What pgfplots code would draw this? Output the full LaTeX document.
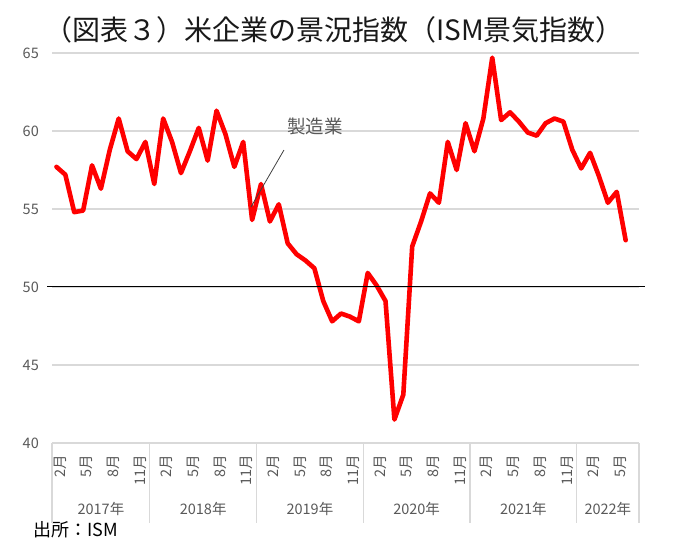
\documentclass[border=0pt]{standalone}
\usepackage{pgfplots}
\pgfplotsset{compat=1.18}
\usepackage{fontspec}
\setmainfont{Noto Sans CJK JP}
\definecolor{gridc}{HTML}{D9D9D9}
\definecolor{lab}{HTML}{595959}
\begin{document}
\begin{tikzpicture}
\useasboundingbox (0,0) rectangle (678bp,555bp);
\node[font=\fontsize{28bp}{32bp}\selectfont, color=black!90] at (334bp,525bp) {（図表３）米企業の景況指数（ISM景気指数）};
\node[font=\fontsize{18bp}{20bp}\selectfont, anchor=west, inner sep=0pt] at (33bp,25bp) {出所：ISM};
\begin{axis}[
  at={(52bp,112bp)}, anchor=south west,
  scale only axis, width=587bp, height=390bp,
  xmin=0, xmax=66, ymin=40, ymax=65,
  clip=false,
  axis line style={draw=none},
  major tick length=0pt,
  ytick={40,45,50,55,60,65},
  ymajorgrids,
  grid style={gridc, line width=1.2bp},
  /pgf/number format/assume math mode=true,
  yticklabel style={font=\fontsize{14.5bp}{16bp}\selectfont, color=lab, inner sep=0pt},
  yticklabel shift=13bp,
  xtick={0.5,3.5,6.5,9.5,12.5,15.5,18.5,21.5,24.5,27.5,30.5,33.5,36.5,39.5,42.5,45.5,48.5,51.5,54.5,57.5,60.5,63.5},
  xticklabels={2月,5月,8月,11月,2月,5月,8月,11月,2月,5月,8月,11月,2月,5月,8月,11月,2月,5月,8月,11月,2月,5月},
  xticklabel style={font=\fontsize{14.5bp}{16bp}\selectfont, color=lab, xshift=3.5bp, rotate=90, anchor=east, inner sep=0pt},
  xticklabel shift=12bp,
]
\addplot[red, line width=4.6bp, line join=round, line cap=round] table[x=x, y=y] {
x y
0.5 57.7
1.5 57.2
2.5 54.8
3.5 54.9
4.5 57.8
5.5 56.3
6.5 58.8
7.5 60.8
8.5 58.7
9.5 58.2
10.5 59.3
11.5 56.6
12.5 60.8
13.5 59.3
14.5 57.3
15.5 58.7
16.5 60.2
17.5 58.1
18.5 61.3
19.5 59.8
20.5 57.7
21.5 59.3
22.5 54.3
23.5 56.6
24.5 54.2
25.5 55.3
26.5 52.8
27.5 52.1
28.5 51.7
29.5 51.2
30.5 49.1
31.5 47.8
32.5 48.3
33.5 48.1
34.5 47.8
35.5 50.9
36.5 50.1
37.5 49.1
38.5 41.5
39.5 43.1
40.5 52.6
41.5 54.2
42.5 56.0
43.5 55.4
44.5 59.3
45.5 57.5
46.5 60.5
47.5 58.7
48.5 60.8
49.5 64.7
50.5 60.7
51.5 61.2
52.5 60.6
53.5 59.9
54.5 59.7
55.5 60.5
56.5 60.8
57.5 60.6
58.5 58.8
59.5 57.6
60.5 58.6
61.5 57.1
62.5 55.4
63.5 56.1
64.5 53.0
};
\draw[black, line width=1bp] (axis cs:-0.56,50) -- (axis cs:66.67,50);
% category separators
\pgfplotsinvokeforeach{0,11,23,35,47,59,66}{
  \draw[gridc, line width=1.2bp] (axis cs:#1,40) -- ++(0pt,-80bp);
}
\node[font=\fontsize{14.5bp}{16bp}\selectfont, color=lab] at ([yshift=-66bp]axis cs:5.5,40) {2017年};
\node[font=\fontsize{14.5bp}{16bp}\selectfont, color=lab] at ([yshift=-66bp]axis cs:17,40) {2018年};
\node[font=\fontsize{14.5bp}{16bp}\selectfont, color=lab] at ([yshift=-66bp]axis cs:29,40) {2019年};
\node[font=\fontsize{14.5bp}{16bp}\selectfont, color=lab] at ([yshift=-66bp]axis cs:41,40) {2020年};
\node[font=\fontsize{14.5bp}{16bp}\selectfont, color=lab] at ([yshift=-66bp]axis cs:53,40) {2021年};
\node[font=\fontsize{14.5bp}{16bp}\selectfont, color=lab] at ([yshift=-66bp]axis cs:62.5,40) {2022年};
% annotation
\draw[black!75, line width=0.8bp] (axis cs:26.08,58.78) -- (axis cs:22.37,55.13);
\node[font=\fontsize{18.5bp}{20bp}\selectfont, color=lab] at (axis cs:29.57,60.32) {製造業};
\end{axis}
\end{tikzpicture}
\end{document}
